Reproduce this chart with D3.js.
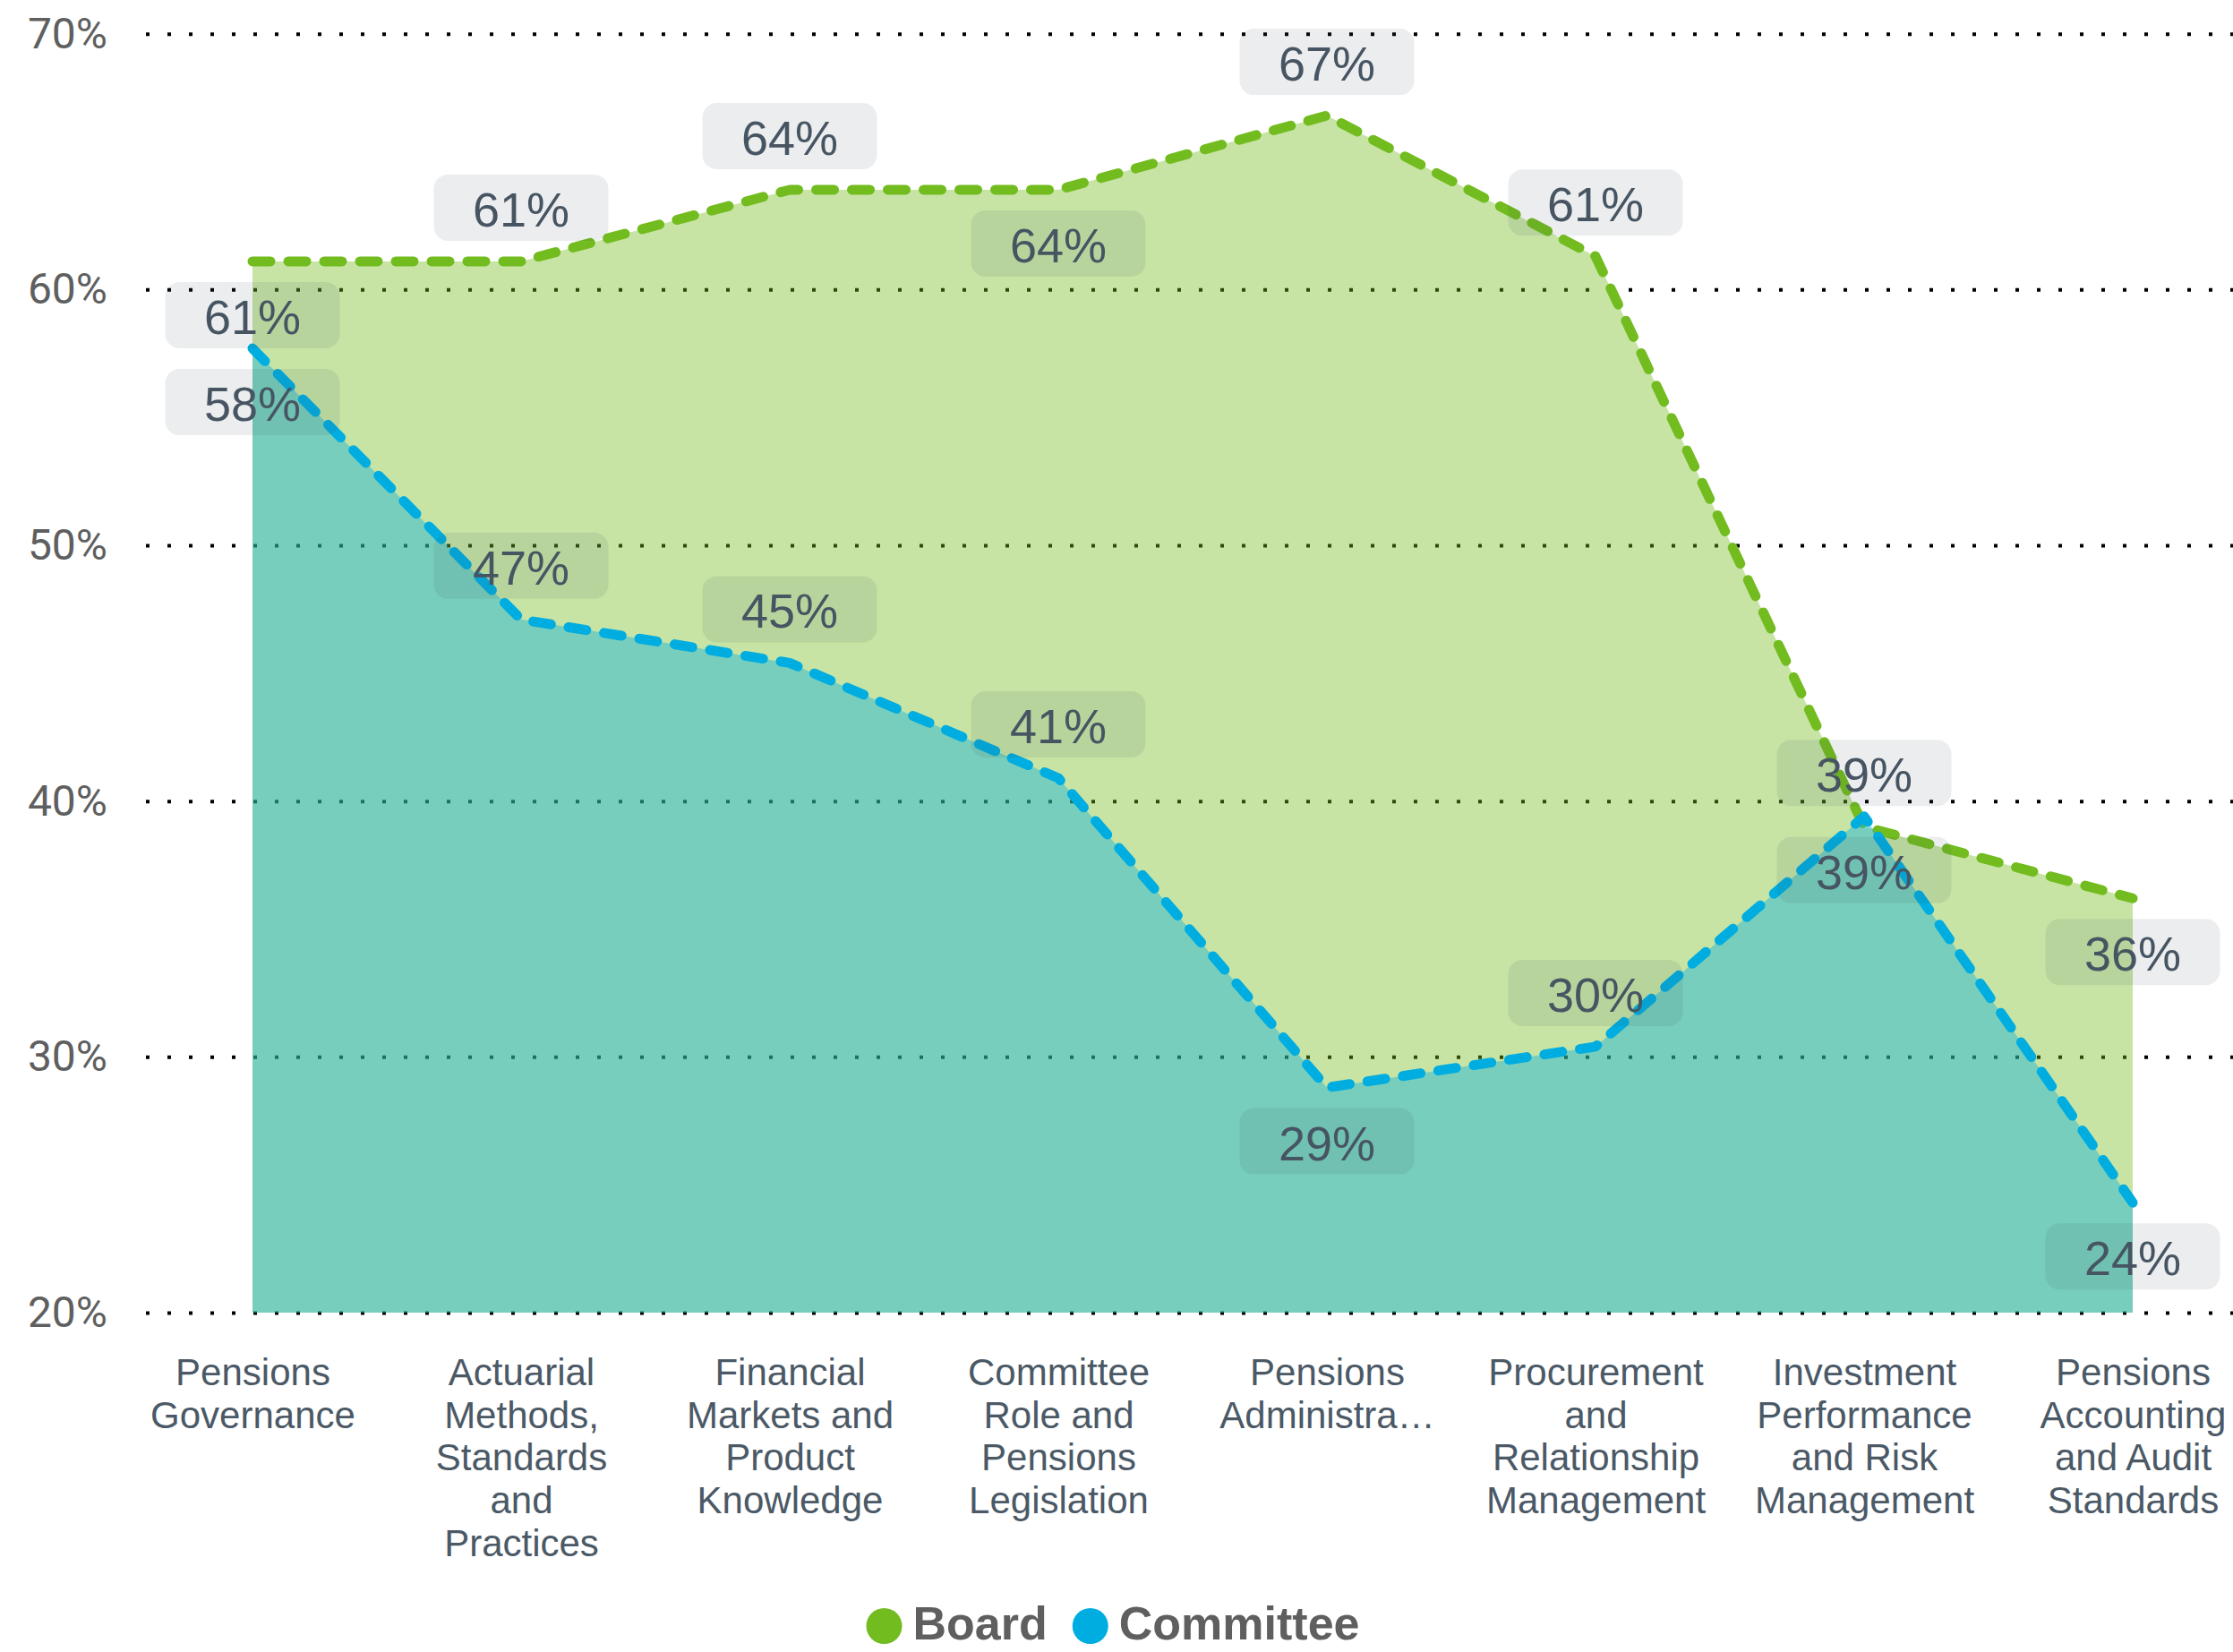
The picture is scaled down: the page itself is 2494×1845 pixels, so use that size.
<!DOCTYPE html>
<html>
<head>
<meta charset="utf-8">
<script src="https://cdn.jsdelivr.net/npm/d3@7"></script>
<style>
  body { margin: 0; background: #fff; }
  svg { display: block; }
</style>
</head>
<body>
<div id="chart"></div>
<script>
var categories = [
  "Pensions Governance",
  "Actuarial Methods, Standards and Practices",
  "Financial Markets and Product Knowledge",
  "Committee Role and Pensions Legislation",
  "Pensions Administration",
  "Procurement and Relationship Management",
  "Investment Performance and Risk Management",
  "Pensions Accounting and Audit Standards"
];
// wrapped tick text as it shows under the axis
var tickLabels = [
  ["Pensions", "Governance"],
  ["Actuarial", "Methods,", "Standards", "and", "Practices"],
  ["Financial", "Markets and", "Product", "Knowledge"],
  ["Committee", "Role and", "Pensions", "Legislation"],
  ["Pensions", "Administra\u2026"],
  ["Procurement", "and", "Relationship", "Management"],
  ["Investment", "Performance", "and Risk", "Management"],
  ["Pensions", "Accounting", "and Audit", "Standards"]
];
var boardValues = [61.1, 61.1, 63.9, 63.9, 66.8, 61.3, 39.0, 36.2];
var committeeValues = [57.7, 47.1, 45.4, 40.9, 28.8, 30.4, 39.4, 24.3];
var yTicks = [20, 30, 40, 50, 60, 70];
// where each data label sits relative to its point
var boardLabelSide = ["below", "above", "above", "below", "above", "above", "above", "below"];
var committeeLabelSide = ["below", "above", "above", "above", "below", "above", "below", "below"];

var W = 2494, H = 1845;
var green = "#72bc1f", blue = "#00ade0";

var svg = d3.select("#chart").append("svg")
  .attr("width", W)
  .attr("height", H);

var x = d3.scalePoint()
  .domain(categories)
  .range([282, 2382]);

var y = d3.scaleLinear()
  .domain([20, 70])
  .range([1466, 37.7]);

// y axis + dotted gridlines
var gridLeft = 163;
var yAxis = svg.append("g")
  .attr("transform", "translate(" + gridLeft + ",0)")
  .call(d3.axisLeft(y)
    .tickValues(yTicks)
    .tickSize(-(W - gridLeft))
    .tickPadding(43)
    .tickFormat(function (d) { return d + "%"; }));
yAxis.select(".domain").remove();
yAxis.selectAll(".tick line")
  .attr("stroke", "#000")
  .attr("stroke-width", 4)
  .attr("stroke-dasharray", "4,20");
yAxis.selectAll(".tick text")
  .attr("fill", "#5f5f5f")
  .style("font-family", "Roboto, 'Segoe UI', sans-serif")
  .style("font-size", "48px");

// x axis labels
var xAxis = svg.append("g")
  .attr("transform", "translate(0," + y(20) + ")")
  .call(d3.axisBottom(x).tickSize(0).tickFormat(""));
xAxis.select(".domain").remove();
xAxis.selectAll(".tick").each(function (d, i) {
  var t = d3.select(this).select("text")
    .attr("y", 0)
    .attr("dy", null)
    .attr("fill", "#4b5966")
    .style("font-family", "'Liberation Sans', Arial, sans-serif")
    .style("font-size", "42px")
    .attr("text-anchor", "middle");
  tickLabels[i].forEach(function (line, j) {
    t.append("tspan")
      .attr("x", 0)
      .attr("y", 81 + j * 47.7)
      .text(line);
  });
});

function area(vals) {
  return d3.area()
    .x(function (d, i) { return x(categories[i]); })
    .y0(y(20))
    .y1(function (d) { return y(d); })(vals);
}
function line(vals) {
  return d3.line()
    .x(function (d, i) { return x(categories[i]); })
    .y(function (d) { return y(d); })(vals);
}

svg.append("path")
  .attr("d", area(boardValues))
  .attr("fill", green)
  .attr("fill-opacity", 0.4);
svg.append("path")
  .attr("d", line(boardValues))
  .attr("fill", "none")
  .attr("stroke", green)
  .attr("stroke-width", 11)
  .attr("stroke-linecap", "round")
  .attr("stroke-linejoin", "round")
  .attr("stroke-dasharray", "20,20");

svg.append("path")
  .attr("d", area(committeeValues))
  .attr("fill", blue)
  .attr("fill-opacity", 0.4);
svg.append("path")
  .attr("d", line(committeeValues))
  .attr("fill", "none")
  .attr("stroke", blue)
  .attr("stroke-width", 11)
  .attr("stroke-linecap", "round")
  .attr("stroke-linejoin", "round")
  .attr("stroke-dasharray", "20,20");

// data labels
function labels(vals, sides) {
  var g = svg.append("g");
  vals.forEach(function (v, i) {
    var cx = x(categories[i]);
    var cy = y(v) + (sides[i] == "above" ? -60 : 60);
    g.append("rect")
      .attr("x", cx - 97.5)
      .attr("y", cy - 37)
      .attr("width", 195)
      .attr("height", 74)
      .attr("rx", 16)
      .attr("fill", "#3d4a57")
      .attr("fill-opacity", 0.1);
    g.append("text")
      .attr("x", cx)
      .attr("y", cy + 21)
      .attr("text-anchor", "middle")
      .attr("fill", "#475563")
      .style("font-family", "'Liberation Sans', Arial, sans-serif")
      .style("font-size", "54px")
      .text(Math.round(v) + "%");
  });
}
labels(boardValues, boardLabelSide);
labels(committeeValues, committeeLabelSide);

// legend
var legend = svg.append("g");
var lx = 0;
[["Board", green], ["Committee", blue]].forEach(function (s) {
  legend.append("circle")
    .attr("cx", lx + 20)
    .attr("cy", -15)
    .attr("r", 20)
    .attr("fill", s[1]);
  var t = legend.append("text")
    .attr("x", lx + 52)
    .attr("y", 0)
    .attr("fill", "#5f5f5f")
    .style("font-family", "'Liberation Sans', Arial, sans-serif")
    .style("font-weight", "bold")
    .style("font-size", "52px")
    .text(s[0]);
  lx += 52 + t.node().getComputedTextLength() + 28;
});
var lw = lx - 28;
legend.attr("transform", "translate(" + (W / 2 - lw / 2 - 4) + ",1831)");
</script>
</body>
</html>
